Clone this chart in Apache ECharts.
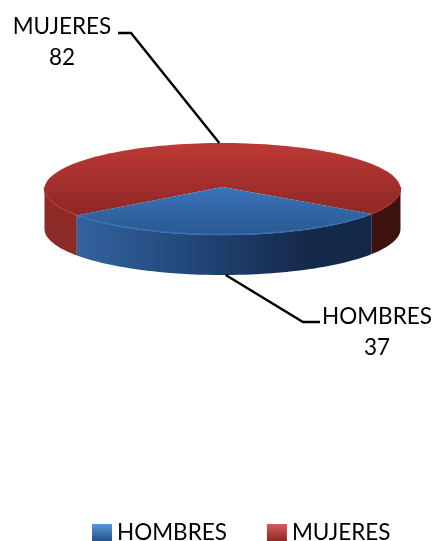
<!DOCTYPE html>
<html>
<head>
<meta charset="utf-8">
<style>
  html, body { margin: 0; padding: 0; background: #fff; }
  #chart { width: 434px; height: 541px; }
</style>
<script src="https://cdn.jsdelivr.net/npm/echarts@6/dist/echarts.min.js"></script>
</head>
<body>
<div id="chart"></div>
<script>
// datos
const categories = ['HOMBRES', 'MUJERES'];
const values = [37, 82];

const total = values[0] + values[1];
const FONT = 'Lato, "Open Sans", sans-serif';

// disco visto en perspectiva
const CX = 222.5, CY = 189, RX = 178, RY = 46, DEPTH = 40;
// los hombres quedan centrados delante del disco
const START = 33;
const spans = values.map(v => v / total * 360);

function pt(deg, dy) {
  const a = deg * Math.PI / 180;
  return [CX + RX * Math.cos(a), CY + RY * Math.sin(a) + (dy || 0)];
}

function arcPts(from, to, dy) {
  const n = Math.max(2, Math.ceil(Math.abs(to - from) / 2));
  const out = [];
  for (let i = 0; i <= n; i++) out.push(pt(from + (to - from) * i / n, dy));
  return out;
}

function vGrad(stops) {
  return new echarts.graphic.LinearGradient(0, 0, 0, 1, stops);
}
function hGrad(stops) {
  return new echarts.graphic.LinearGradient(0, 0, 1, 0, stops);
}

function topFace(from, to, fill) {
  return { type: 'polygon', shape: { points: [[CX, CY - 2]].concat(arcPts(from, to)) }, style: { fill: fill } };
}
function sideFace(from, to, fill) {
  const pts = arcPts(from, to).concat(arcPts(to, from, DEPTH));
  return { type: 'polygon', shape: { points: pts }, style: { fill: fill } };
}
function rim(from, to, color) {
  return { type: 'polyline', shape: { points: arcPts(from, to, -0.5) }, style: { fill: 'none', stroke: color, lineWidth: 1.5 } };
}
function leader(points) {
  return { type: 'polyline', z2: 10, shape: { points: points }, style: { fill: 'none', stroke: '#000', lineWidth: 2.4 } };
}
function label(x, y, text) {
  return { type: 'text', z2: 10, style: { x: x, y: y, text: text, fill: '#000', font: '22.5px ' + FONT, align: 'center', verticalAlign: 'middle' } };
}

function renderHombres(params, api) {
  const v = api.value(0);
  const from = START, to = START + v / total * 360;
  const anchor = pt((from + to) / 2, DEPTH);
  return {
    type: 'group',
    children: [
      sideFace(from, to, hGrad([
        { offset: 0, color: '#33639f' },
        { offset: 0.45, color: '#1f4272' },
        { offset: 0.78, color: '#15294a' },
        { offset: 1, color: '#14294a' }
      ])),
      topFace(from, to, vGrad([
        { offset: 0, color: '#3a74bb' },
        { offset: 1, color: '#29588f' }
      ])),
      rim(from + 8, to - 2, '#3671b6'),
      leader([anchor, [303, 322], [320, 322]]),
      label(377, 317, categories[0]),
      label(377, 348, String(v))
    ]
  };
}

function renderMujeres(params, api) {
  const v = api.value(0);
  const from = START + spans[0], to = from + v / total * 360;
  const anchor = pt((from + to) / 2);
  return {
    type: 'group',
    children: [
      sideFace(from, 180, '#8c2a27'),
      sideFace(360, to, '#3e130f'),
      topFace(from, to, vGrad([
        { offset: 0, color: '#bd3936' },
        { offset: 1, color: '#8d2725' }
      ])),
      rim(from, 182, '#b23533'),
      rim(358, to, '#a03230'),
      leader([anchor, [131, 33], [118, 33]]),
      label(62, 27, categories[1]),
      label(62, 58, String(v))
    ]
  };
}

const chart = echarts.init(document.getElementById('chart'), null, { renderer: 'canvas' });
chart.setOption({
  animation: false,
  backgroundColor: '#fff',
  legend: {
    left: 92,
    top: 521,
    padding: 0,
    itemWidth: 20,
    itemHeight: 17,
    itemGap: 40,
    icon: 'rect',
    selectedMode: false,
    textStyle: { fontFamily: FONT, fontSize: 22.5, color: '#000' },
    data: [
      { name: categories[0], itemStyle: { color: vGrad([{ offset: 0, color: '#5b95d6' }, { offset: 1, color: '#25528c' }]) } },
      { name: categories[1], itemStyle: { color: vGrad([{ offset: 0, color: '#d85a58' }, { offset: 1, color: '#8f2825' }]) } }
    ]
  },
  series: [
    { type: 'custom', name: categories[1], coordinateSystem: 'none', silent: true, z: 1, itemStyle: { color: '#bd3936' }, renderItem: renderMujeres, data: [[values[1]]] },
    { type: 'custom', name: categories[0], coordinateSystem: 'none', silent: true, z: 2, itemStyle: { color: '#3a74bb' }, renderItem: renderHombres, data: [[values[0]]] }
  ]
});
</script>
</body>
</html>
